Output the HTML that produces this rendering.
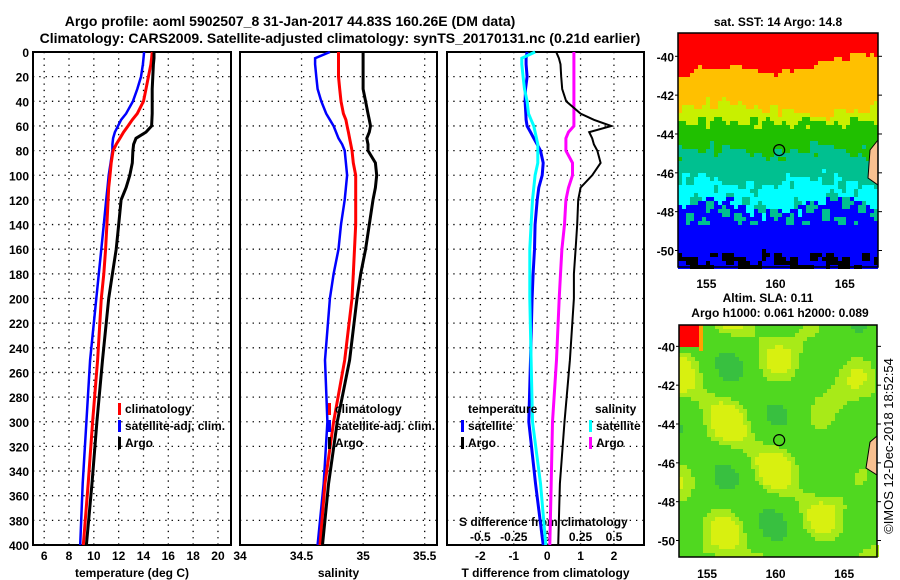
<!DOCTYPE html>
<html><head><meta charset="utf-8"><style>
body{margin:0;background:#fff;}
svg{display:block;font-family:"Liberation Sans",Arial,sans-serif;font-weight:bold;}
</style></head><body>
<svg id="c" width="900" height="580" viewBox="0 0 900 580"></svg>
<script>
const depths=[0,5,10,20,30,40,50,55,60,65,70,75,80,90,100,110,120,140,160,180,200,250,300,350,400];
const tempClim=[14.7,14.65,14.6,14.4,14.2,14.0,13.5,13.1,12.75,12.4,12.1,11.8,11.55,11.4,11.3,11.2,11.15,11.05,10.95,10.8,10.6,10.3,9.9,9.55,9.15];
const tempSat=[14.05,14.0,13.95,13.8,13.5,13.15,12.6,12.2,11.95,11.7,11.55,11.5,11.5,11.35,11.2,11.1,11.0,10.8,10.6,10.4,10.2,9.7,9.4,9.1,8.9];
const tempArgo=[14.85,14.85,14.8,14.75,14.7,14.7,14.7,14.68,14.65,14.2,13.4,13.2,13.15,13.1,12.9,12.6,12.2,12.0,11.8,11.5,11.2,10.7,10.25,9.85,9.4];
const salClim=[34.8,34.8,34.8,34.8,34.81,34.82,34.84,34.86,34.87,34.88,34.89,34.9,34.91,34.92,34.94,34.94,34.94,34.94,34.93,34.92,34.91,34.85,34.76,34.69,34.65];
const salSat=[34.73,34.61,34.61,34.62,34.63,34.66,34.7,34.73,34.76,34.78,34.8,34.83,34.85,34.86,34.87,34.86,34.85,34.82,34.8,34.76,34.73,34.69,34.71,34.68,34.63];
const salArgo=[35.0,35.0,35.0,35.0,35.0,35.02,35.04,35.05,35.06,35.05,35.03,35.04,35.04,35.1,35.11,35.1,35.08,35.05,35.02,34.98,34.95,34.89,34.79,34.72,34.67];
const tDiffSat=[-0.6,-0.63,-0.63,-0.6,-0.65,-0.66,-0.64,-0.63,-0.6,-0.5,-0.4,-0.3,-0.2,-0.12,-0.15,-0.25,-0.3,-0.36,-0.38,-0.42,-0.45,-0.5,-0.55,-0.35,-0.12];
const tDiffArgo=[0.27,0.35,0.4,0.42,0.45,0.57,1.0,1.4,1.92,1.26,1.35,1.4,1.5,1.6,1.35,1.0,0.93,0.9,0.85,0.8,0.8,0.68,0.52,0.38,0.33];
const sDiffSat=[-0.09,-0.19,-0.19,-0.18,-0.17,-0.15,-0.14,-0.12,-0.1,-0.09,-0.08,-0.07,-0.07,-0.07,-0.09,-0.1,-0.11,-0.12,-0.13,-0.13,-0.13,-0.12,-0.11,-0.05,-0.01];
const sDiffArgo=[0.2,0.2,0.2,0.2,0.2,0.2,0.2,0.2,0.2,0.16,0.14,0.14,0.14,0.19,0.19,0.16,0.14,0.13,0.11,0.1,0.09,0.07,0.04,0.03,0.02];
const depthTicks=[0,20,40,60,80,100,120,140,160,180,200,220,240,260,280,300,320,340,360,380,400];
const tempTicks=[6,8,10,12,14,16,18,20];
const salTicks=[34,34.5,35,35.5];
const tdTicks=[-2,-1,0,1,2];
const sdTicks=[-0.5,-0.25,0,0.25,0.5];
const latTicks=[-40,-42,-44,-46,-48,-50];
const lonTicks=[155,160,165];

const NS="http://www.w3.org/2000/svg";
const svg=document.getElementById('c');
function el(tag,attrs,parent){const e=document.createElementNS(NS,tag);for(const k in attrs)e.setAttribute(k,attrs[k]);(parent||svg).appendChild(e);return e;}
function txt(x,y,s,anchor,size,parent){const t=el('text',{x:x,y:y,'font-size':size||12,'text-anchor':anchor||'start',fill:'#000'},parent);t.textContent=s;return t;}

const Y0=52,Y1=545;
const yD=d=>Y0+d/400*(Y1-Y0);
const panels=[
 {name:'temperature',x0:33,x1:231,min:5.1,max:21.05,ticks:tempTicks,label:'temperature (deg C)'},
 {name:'salinity',x0:240,x1:437,min:34.0,max:35.6,ticks:salTicks,label:'salinity'},
 {name:'difference',x0:447,x1:644,min:-3.0,max:2.9,ticks:tdTicks,label:'T difference from climatology'}
];
panels.forEach(p=>{p.x=v=>p.x0+(v-p.min)/(p.max-p.min)*(p.x1-p.x0);});

let t=txt(290,26,'Argo profile: aoml 5902507_8 31-Jan-2017 44.83S 160.26E (DM data)','middle',14);

t=txt(340,43,'Climatology: CARS2009. Satellite-adjusted climatology: synTS_20170131.nc (0.21d earlier)','middle',14);


panels.forEach((p,i)=>{
 const g=el('g',{});
 
 
 depthTicks.forEach(d=>{ if(d>0&&d<400) el('line',{x1:p.x0,x2:p.x1,y1:yD(d),y2:yD(d),stroke:'#000','stroke-width':1.3,'stroke-dasharray':'1.3 5'},g);});
 p.ticks.forEach(v=>{const x=p.x(v); if(x>p.x0+1&&x<p.x1-1) el('line',{x1:x,x2:x,y1:Y0,y2:Y1,stroke:'#000','stroke-width':1.3,'stroke-dasharray':'1.3 5'},g);});
 el('rect',{x:p.x0,y:Y0,width:p.x1-p.x0,height:Y1-Y0,fill:'none',stroke:'#000','stroke-width':2},g);
 p.ticks.forEach(v=>{const x=p.x(v);const tl=txt(x,560,String(v),'middle',12,g);
  });
 const xl=txt((p.x0+p.x1)/2,577,p.label,'middle',12,g);
 
});
depthTicks.forEach(d=>{const tl=txt(29,yD(d)+5,String(d),'end',12);
 });
const pD=panels[2];
const sdx=v=>pD.x(v*4);
sdTicks.forEach(v=>{const tl=txt(sdx(v),541,String(v),'middle',12);
 });
t=txt(459,526,'S difference from climatology','start',12);


function series(vals,xf,color,w,name){
 const pts=depths.map((d,i)=>xf(vals[i]).toFixed(1)+','+yD(d).toFixed(1)).join(' ');
 const l=el('polyline',{points:pts,fill:'none',stroke:color,'stroke-width':w,'stroke-linejoin':'miter'});
 
 
}
const p0=panels[0],p1=panels[1];
series(tempSat,v=>p0.x(v),'#0000ff',2.5,'temp-satellite-line');
series(tempClim,v=>p0.x(v),'#ff0000',3,'temp-climatology-line');
series(tempArgo,v=>p0.x(v),'#000',3,'temp-argo-line');
series(salSat,v=>p1.x(v),'#0000ff',2.5,'sal-satellite-line');
series(salClim,v=>p1.x(v),'#ff0000',3,'sal-climatology-line');
series(salArgo,v=>p1.x(v),'#000',3,'sal-argo-line');
series(tDiffSat,v=>pD.x(v),'#0000ff',3,'tdiff-satellite-line');
series(sDiffSat,sdx,'#00ffff',3,'sdiff-satellite-line');
series(sDiffArgo,sdx,'#ff00ff',3,'sdiff-argo-line');
series(tDiffArgo,v=>pD.x(v),'#000',2,'tdiff-argo-line');

function legend(x,y,color,label){
 const g=el('g',{});
 
 
 el('rect',{x:x,y:y-10,width:3,height:12,fill:color},g);
 txt(x+7,y,label,'start',12,g);
}
legend(118,413,'#ff0000','climatology');legend(118,430,'#0000ff','satellite-adj. clim.');legend(118,447,'#000','Argo');
legend(328,413,'#ff0000','climatology');legend(328,430,'#0000ff','satellite-adj. clim.');legend(328,447,'#000','Argo');
t=txt(468,413,'temperature','start',12);
legend(461,430,'#0000ff','satellite');legend(461,447,'#000','Argo');
t=txt(595,413,'salinity','start',12);
legend(589,430,'#00ffff','satellite');legend(589,447,'#ff00ff','Argo');

function mapFrame(x0,y0,x1,y1,lat0,lat1,name){
 const g=el('g',{});
 
 
 return {g,x0,y0,x1,y1,lx:lon=>x0+(lon-152.95)/(167.4-152.95)*(x1-x0),ly:lat=>y0+(lat0-lat)/(lat0-lat1)*(y1-y0)};
}
const m1=mapFrame(678,33,878,267,-38.8,-50.85,'sst-map');
const m2=mapFrame(679,325,877,557,-38.9,-50.85,'sla-map');
(function(){
 const cw=4,ch=4;
 for(let y=m1.y0;y<m1.y1;y+=ch){for(let x=m1.x0;x<m1.x1;x+=cw){
  const fx=(x-m1.x0)/200, lat=-38.8-(y-m1.y0)/234*12.05;
  const n=Math.sin(x*0.37+y*0.11)*0.35+Math.sin(x*0.13-y*0.29)*0.4;
  let c;
  const redB=-40.9+fx*0.9+Math.sin(fx*9)*0.3;
  if(lat>redB+n*0.3) c='#ff0000';
  else if(lat>-42.6+n*0.5+Math.sin(fx*7)*0.3) c='#ffc000';
  else if(lat>-43.3+n*0.5) c='#c8f000';
  else if(lat>-44.8+n*0.6+Math.sin(fx*11)*0.2) c='#20c000';
  else if(lat>-46.4+n*0.6+Math.sin(fx*12)*0.3) c='#00c090';
  else if(lat>-47.5+n*0.7+Math.sin(fx*10)*0.4) c='#00ffff';
  else if(lat>-48.7+n*0.3) c=(n>0.2?'#00c090':'#0000ff');
  else if(lat>-50.2+n*0.4) c='#0000ff';
  else c=(n>0?'#000':'#0000ff');
  el('rect',{x:x,y:y,width:cw,height:ch,fill:c},m1.g);
 }}
 el('rect',{x:m2.x0,y:m2.y0,width:m2.x1-m2.x0,height:m2.y1-m2.y0,fill:'#50d820'},m2.g);
 for(let y=m2.y0;y<m2.y1;y+=4){for(let x=m2.x0;x<m2.x1;x+=4){
  const n=Math.sin(x*0.07+1)*Math.cos(y*0.06)+Math.sin(x*0.04-y*0.05)*0.6;
  let c=n>0.8?'#d8f010':n>0.35?'#a8ea18':n<-1.1?'#38c040':null;
  if(c) el('rect',{x:x,y:y,width:4,height:4,fill:c},m2.g);
 }}
 el('rect',{x:679,y:325,width:20,height:22,fill:'#ff0000'},m2.g);
 el('rect',{x:699,y:325,width:4,height:26,fill:'#ffa000'},m2.g);
 el('path',{d:'M870,150 L878,140 L878,185 L868,178 Z',fill:'#f8c090',stroke:'#000','stroke-width':1},m1.g);
 el('path',{d:'M870,442 L877,436 L877,475 L866,468 Z',fill:'#f8c090',stroke:'#000','stroke-width':1},m2.g);
})();
[m1,m2].forEach(m=>{
 el('rect',{x:m.x0,y:m.y0,width:m.x1-m.x0,height:m.y1-m.y0,fill:'none',stroke:'#000','stroke-width':1.5},m.g);
 latTicks.forEach(l=>{const y=m.ly(l);el('line',{x1:m.x1,x2:m.x1+4,y1:y,y2:y,stroke:'#000'},m.g);
  const tl=txt(m.x0-4,y+5,String(l),'end',12,m.g);});
 lonTicks.forEach(l=>{const x=m.lx(l);
  const tl=txt(x,m.y1+21,String(l),'middle',12,m.g);});
 const c=el('circle',{cx:m.lx(160.26),cy:m.ly(-44.83),r:5.5,fill:'none',stroke:'#000','stroke-width':1.2},m.g);
 
});
[m1,m2].forEach(m=>{latTicks.forEach(l=>el('line',{x1:m.x0-3,x2:m.x0,y1:m.ly(l),y2:m.ly(l),stroke:'#000'}));});
t=txt(778,26,'sat. SST: 14 Argo: 14.8','middle',12);
t=txt(768,302,'Altim. SLA: 0.11','middle',12);
t=txt(780,317,'Argo h1000: 0.061 h2000: 0.089','middle',12);
t=el('text',{x:0,y:0,'font-size':13,'font-weight':'normal','text-anchor':'middle',transform:'translate(893,446) rotate(-90)'});
t.textContent='©IMOS 12-Dec-2018 18:52:54';

</script>
</body></html>
